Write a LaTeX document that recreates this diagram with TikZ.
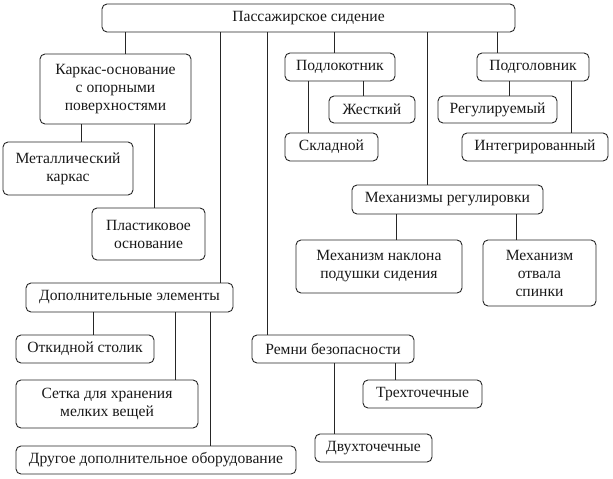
\documentclass[tikz,border=0pt]{standalone}
\usepackage{fontspec}
\setmainfont{Liberation Serif}
\begin{document}
\begin{tikzpicture}[x=1pt,y=-1pt,
  box/.style={draw=black!85, line width=0.9pt, rounded corners=5pt, align=center, inner sep=0pt,
    font=\fontsize{15.6}{18}\selectfont, text=black!90},
  link/.style={draw=black!85, line width=0.9pt}]
\useasboundingbox (0,0) rectangle (613,479);
\node[box, minimum width=413pt, minimum height=28pt] (root) at (308.5,18) {Пассажирское сидение};
\node[box, minimum width=151pt, minimum height=70pt] (kark) at (115.5,89) {Каркас-основание\\с опорными\\поверхностями};
\node[box, minimum width=130pt, minimum height=53pt] (metal) at (68,168.5) {Металлический\\каркас};
\node[box, minimum width=113pt, minimum height=52pt] (plast) at (148.5,234) {Пластиковое\\основание};
\node[box, minimum width=110pt, minimum height=28pt] (podlok) at (340,67) {Подлокотник};
\node[box, minimum width=86pt, minimum height=27pt] (zhest) at (372,109.5) {Жесткий};
\node[box, minimum width=93pt, minimum height=28pt] (sklad) at (331.5,147) {Складной};
\node[box, minimum width=112pt, minimum height=28pt] (podgol) at (533,67) {Подголовник};
\node[box, minimum width=119pt, minimum height=27pt] (regul) at (497.5,109.5) {Регулируемый};
\node[box, minimum width=146pt, minimum height=28pt] (integ) at (535,147) {Интегрированный};
\node[box, minimum width=191pt, minimum height=29pt] (mechreg) at (447.5,199.5) {Механизмы регулировки};
\node[box, minimum width=166pt, minimum height=53pt] (naklon) at (379,266.5) {Механизм наклона\\подушки сидения};
\node[box, minimum width=113pt, minimum height=66pt] (otval) at (539.5,273) {Механизм\\отвала\\спинки};
\node[box, minimum width=207pt, minimum height=29pt] (dop) at (129.5,297.5) {Дополнительные элементы};
\node[box, minimum width=138pt, minimum height=28pt] (otkid) at (85,349) {Откидной столик};
\node[box, minimum width=182pt, minimum height=48pt] (setka) at (107,404) {Сетка для хранения\\мелких вещей};
\node[box, minimum width=280pt, minimum height=28pt] (drugoe) at (156,460) {Другое дополнительное оборудование};
\node[box, minimum width=162pt, minimum height=28pt] (remni) at (333,349) {Ремни безопасности};
\node[box, minimum width=119pt, minimum height=28pt] (trekh) at (422.5,394) {Трехточечные};
\node[box, minimum width=117pt, minimum height=28pt] (dvukh) at (373.5,448) {Двухточечные};
% connectors
\draw[link] (125,0 |- root.south) -- (125,0 |- kark.north);
\draw[link] (220,0 |- root.south) -- (220,0 |- dop.north);
\draw[link] (267,0 |- root.south) -- (267,0 |- remni.north);
\draw[link] (334,0 |- root.south) -- (334,0 |- podlok.north);
\draw[link] (427,0 |- root.south) -- (427,0 |- mechreg.north);
\draw[link] (497,0 |- root.south) -- (497,0 |- podgol.north);
\draw[link] (81,0 |- kark.south) -- (81,0 |- metal.north);
\draw[link] (154,0 |- kark.south) -- (154,0 |- plast.north);
\draw[link] (308,0 |- podlok.south) -- (308,0 |- sklad.north);
\draw[link] (363,0 |- podlok.south) -- (363,0 |- zhest.north);
\draw[link] (509,0 |- podgol.south) -- (509,0 |- regul.north);
\draw[link] (571,0 |- podgol.south) -- (571,0 |- integ.north);
\draw[link] (396,0 |- mechreg.south) -- (396,0 |- naklon.north);
\draw[link] (516,0 |- mechreg.south) -- (516,0 |- otval.north);
\draw[link] (93,0 |- dop.south) -- (93,0 |- otkid.north);
\draw[link] (175,0 |- dop.south) -- (175,0 |- setka.north);
\draw[link] (210,0 |- dop.south) -- (210,0 |- drugoe.north);
\draw[link] (334,0 |- remni.south) -- (334,0 |- dvukh.north);
\draw[link] (395,0 |- remni.south) -- (395,0 |- trekh.north);
\end{tikzpicture}
\end{document}
